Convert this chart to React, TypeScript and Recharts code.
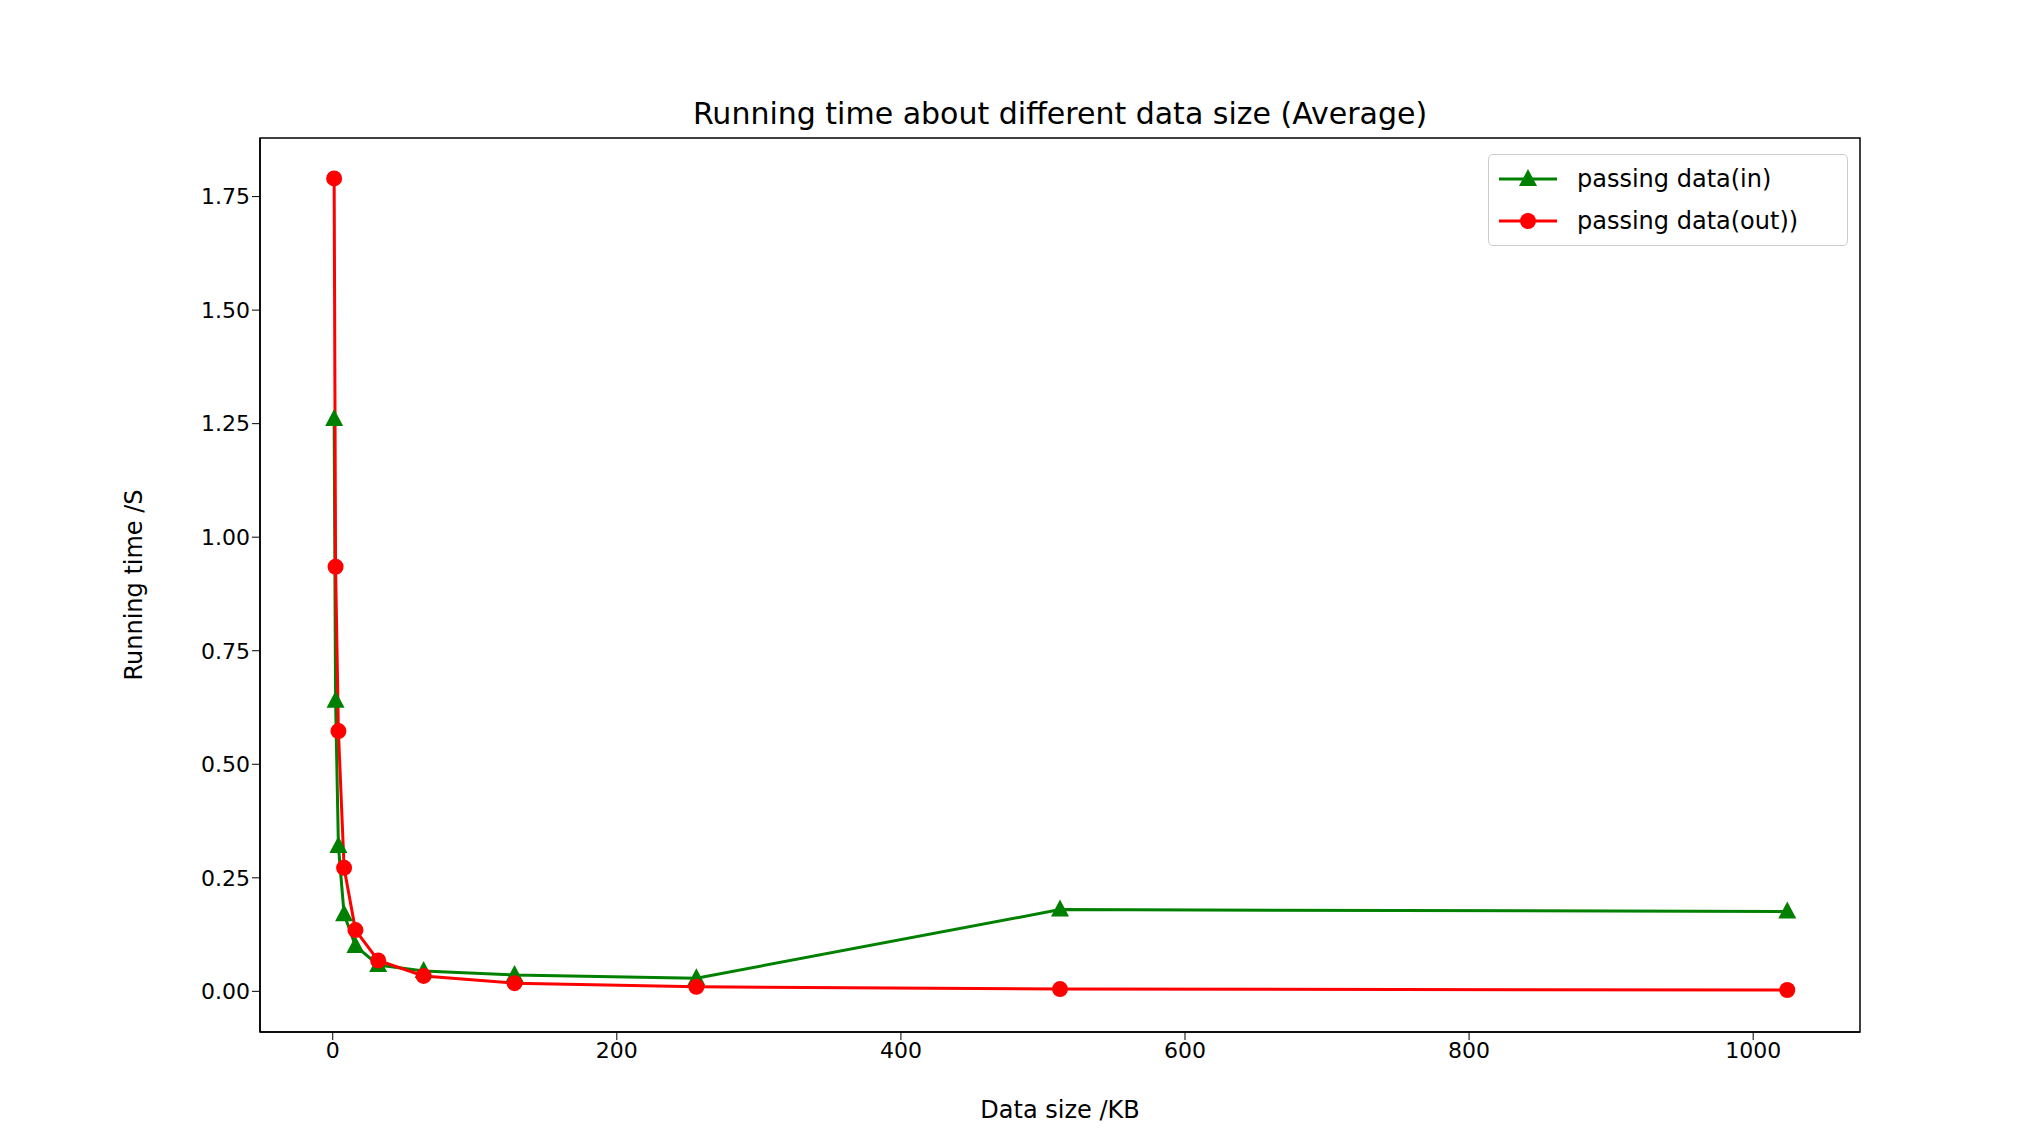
import React from "react";
import { LineChart, Line, XAxis, YAxis, ReferenceArea } from "recharts";

const sizes = [1, 2, 4, 8, 16, 32, 64, 128, 256, 512, 1024];
const inTimes = [1.26, 0.64, 0.32, 0.17, 0.1, 0.058, 0.045, 0.036, 0.029, 0.18, 0.176];
const outTimes = [1.79, 0.935, 0.573, 0.272, 0.135, 0.068, 0.034, 0.018, 0.01, 0.005, 0.003];
const xTicks = [0, 200, 400, 600, 800, 1000];
const yTicks = [0, 0.25, 0.5, 0.75, 1.0, 1.25, 1.5, 1.75];

const data = sizes.map((s, i) => ({ size: s, inT: inTimes[i], outT: outTimes[i] }));
const XD: [number, number] = [-51.2, 1075.2];
const YD: [number, number] = [-0.0895, 1.879];
const font = "DejaVu Sans, sans-serif";

const Tri = (p: any) => {
  const { cx, cy } = p;
  if (cx == null || cy == null) return null;
  const r = 10;
  return <polygon key={p.index} points={`${cx},${cy - r} ${cx - r * 0.9},${cy + r * 0.7} ${cx + r * 0.9},${cy + r * 0.7}`} fill="green" />;
};
const Dot = (p: any) => {
  const { cx, cy } = p;
  if (cx == null || cy == null) return null;
  return <circle key={p.index} cx={cx} cy={cy} r={8} fill="red" />;
};

export default function App() {
  return (
    <div style={{ position: "relative", width: 2022, height: 1128, fontFamily: font, background: "#fff" }}>
      <div style={{ position: "absolute", left: 252, width: 1600, top: 88, textAlign: "center", fontSize: 30, color: "#000" }}>
        Running time about different data size (Average)
      </div>
      <LineChart width={2022} height={1128} data={data} margin={{ top: 130, right: 170, bottom: 0, left: 0 }}>
        <XAxis type="number" dataKey="size" domain={XD} ticks={xTicks} height={104} allowDataOverflow
          tick={{ fill: "#000", fontSize: 22, fontFamily: font }} tickLine={{ stroke: "#000" }} tickSize={8}
          axisLine={{ stroke: "#000", strokeWidth: 1.5 }}
          label={{ value: "Data size /KB", position: "insideBottom", offset: 18, fill: "#000", fontSize: 24, fontFamily: font }} />
        <YAxis type="number" domain={YD} ticks={yTicks} width={252} allowDataOverflow
          tickFormatter={(v: number) => v.toFixed(2)}
          tick={{ fill: "#000", fontSize: 22, fontFamily: font }} tickLine={{ stroke: "#000" }} tickSize={8}
          axisLine={{ stroke: "#000", strokeWidth: 1.5 }}
          label={{ value: "Running time /S", angle: -90, position: "insideLeft", offset: 125, fill: "#000", fontSize: 24, fontFamily: font, style: { textAnchor: "middle" } }} />
        <ReferenceArea x1={XD[0]} x2={XD[1]} y1={YD[0]} y2={YD[1]} fill="none" stroke="#000" strokeWidth={1.5} ifOverflow="visible" />
        <Line type="linear" dataKey="inT" stroke="green" strokeWidth={3} dot={Tri} isAnimationActive={false} />
        <Line type="linear" dataKey="outT" stroke="red" strokeWidth={3} dot={Dot} isAnimationActive={false} />
      </LineChart>
      <div style={{ position: "absolute", left: 1480, top: 146, width: 358, height: 90, border: "1.5px solid #ccc", borderRadius: 5, background: "#fff", fontSize: 24, color: "#000" }}>
        {[["passing data(in)", "green", "tri"], ["passing data(out))", "red", "circ"]].map(([t, c, m], i) => (
          <div key={i} style={{ position: "absolute", left: 8, top: 8 + i * 42, display: "flex", alignItems: "center", height: 32 }}>
            <svg width={62} height={24}>
              <line x1={2} y1={12} x2={60} y2={12} stroke={c} strokeWidth={3} />
              {m === "tri" ? <polygon points="31,2 22,19 40,19" fill={c} /> : <circle cx={31} cy={12} r={8} fill={c} />}
            </svg>
            <span style={{ marginLeft: 18 }}>{t}</span>
          </div>
        ))}
      </div>
    </div>
  );
}
